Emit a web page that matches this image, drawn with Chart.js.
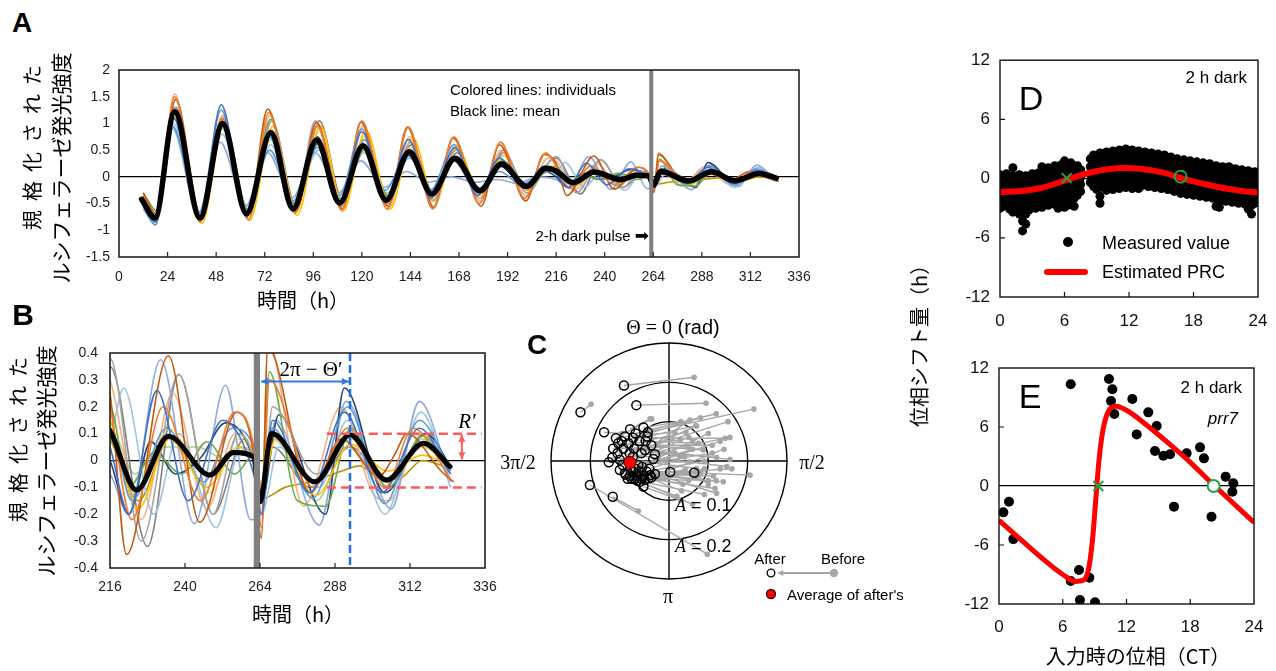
<!DOCTYPE html>
<html><head><meta charset="utf-8">
<script src="https://cdn.jsdelivr.net/npm/chart.js@4.4.0/dist/chart.umd.min.js"></script>
<style>
body{margin:0;width:1276px;height:671px;background:#fff;position:relative;overflow:hidden;font-family:"Liberation Sans",Arial,sans-serif;}
canvas{position:absolute;}
.t{position:absolute;white-space:nowrap;color:#000;line-height:1;}
.c{transform:translate(-50%,-50%);}
.l{transform:translate(0,-50%);}
.r{transform:translate(-100%,-50%);}
.rot{transform:translate(-50%,-50%) rotate(-90deg);}
.jp{font-family:"Noto Sans CJK JP",sans-serif;}
.serif{font-family:"Liberation Serif","DejaVu Serif",serif;}
.big{font-weight:bold;}
</style></head><body>
<canvas id="cA" width="830" height="300" style="left:0;top:40px"></canvas>
<canvas id="cB" width="500" height="290" style="left:0;top:330px"></canvas>
<canvas id="cC" width="400" height="300" style="left:500px;top:310px"></canvas>
<canvas id="cD" width="346" height="300" style="left:930px;top:40px"></canvas>
<canvas id="cE" width="346" height="331" style="left:930px;top:340px"></canvas>

<!-- Panel A texts -->
<div class="t c big" style="left:22px;top:23px;font-size:28px">A</div>
<div class="t rot jp" style="left:32px;top:143px;font-size:20px;letter-spacing:9px">規格化された</div>
<div class="t rot jp" style="left:60px;top:168px;font-size:21px">ルシフェラーゼ発光強度</div>
<div class="t c jp" style="left:303px;top:300px;font-size:20px">時間（h）</div>
<div class="t l" style="left:450px;top:89px;font-size:15px">Colored lines: individuals</div>
<div class="t l" style="left:450px;top:110px;font-size:15px">Black line: mean</div>
<div class="t r" style="left:649px;top:235px;font-size:15px">2-h dark pulse <span style="font-family:'DejaVu Sans';font-size:17px">➡</span></div>

<!-- Panel B texts -->
<div class="t c big" style="left:23px;top:315px;font-size:30px">B</div>
<div class="t rot jp" style="left:18px;top:435px;font-size:20px;letter-spacing:9px">規格化された</div>
<div class="t rot jp" style="left:45px;top:461px;font-size:21px">ルシフェラーゼ発光強度</div>
<div class="t c jp" style="left:298px;top:614px;font-size:20px">時間（h）</div>
<div class="t c serif" style="left:311px;top:369px;font-size:21px">2π − Θ′</div>
<div class="t c serif" style="left:467px;top:421px;font-size:21px;font-style:italic">R′</div>

<!-- Panel C texts -->
<div class="t c big" style="left:537px;top:345px;font-size:28px">C</div>
<div class="t c" style="left:673px;top:327px;font-size:20px"><span class="serif">Θ = 0</span> (rad)</div>
<div class="t c serif" style="left:518px;top:462px;font-size:20px">3π/2</div>
<div class="t c serif" style="left:812px;top:462px;font-size:20px">π/2</div>
<div class="t c serif" style="left:668px;top:596px;font-size:20px">π</div>
<div class="t l" style="left:675px;top:505px;font-size:18px"><span class="serif" style="font-style:italic">A</span> = 0.1</div>
<div class="t l" style="left:675px;top:546px;font-size:18px"><span class="serif" style="font-style:italic">A</span> = 0.2</div>
<div class="t c" style="left:770px;top:558px;font-size:15px">After</div>
<div class="t c" style="left:843px;top:558px;font-size:15px">Before</div>
<div class="t l" style="left:787px;top:594px;font-size:15px">Average of after's</div>

<!-- Panel D/E texts -->
<div class="t c" style="left:1031px;top:98px;font-size:34px">D</div>
<div class="t r" style="left:1247px;top:77px;font-size:17px">2 h dark</div>
<div style="position:absolute;left:1063px;top:237px;width:10px;height:10px;border-radius:50%;background:#000"></div>
<div class="t l" style="left:1102px;top:243px;font-size:18px">Measured value</div>
<div style="position:absolute;left:1044px;top:269px;width:44px;height:6px;border-radius:3px;background:#ff0000"></div>
<div class="t l" style="left:1102px;top:272px;font-size:18px">Estimated PRC</div>
<div class="t rot jp" style="left:919px;top:341px;font-size:20px">位相シフト量（h）</div>
<div class="t c" style="left:1030px;top:396px;font-size:34px">E</div>
<div class="t r" style="left:1242px;top:387px;font-size:17px">2 h dark</div>
<div class="t r" style="left:1238px;top:418px;font-size:17px;font-style:italic">prr7</div>
<div class="t c jp" style="left:1138px;top:656px;font-size:20px">入力時の位相（CT）</div>

<script>
// ===================== DATA =====================
// Panel A/B: time axis ticks
const aXTicks = [0,24,48,72,96,120,144,168,192,216,240,264,288,312,336];
const aYTicks = [-1.5,-1,-0.5,0,0.5,1,1.5,2];
const bXTicks = [216,240,264,288,312,336];
const bYTicks = [-0.4,-0.3,-0.2,-0.1,0,0.1,0.2,0.3,0.4];
const pulseWindow = [262,264];     // 2-h dark pulse (h)
const bPeakAfter = 292.8;          // first peak after pulse (h)
const bPeakLevel = 0.294;          // level of 2π−Θ′ arrow
const bAmpLevel = 0.1;             // R′
const bAmpFrom = 285.4, bAmpTo = 334.9, bAmpArrowT = 328.6;

// mean trace [time h, normalised luminescence]
const meanTrace = [[11.2,-0.42],[17.8,-0.77],[27.5,1.22],[40,-0.77],[51.2,1.0],[63,-0.69],[75,0.83],[86,-0.6],[97.6,0.69],[109,-0.49],[120.6,0.58],[132,-0.44],[143.4,0.47],[154.5,-0.32],[166,0.35],[178.4,-0.26],[189,0.24],[201.4,-0.18],[211,0.16],[216,0.11],[224.5,-0.11],[234.7,0.09],[248,-0.054],[255.5,0.03],[261.9,0.014],[264,-0.154],[267.7,0.1],[281.6,-0.079],[292.8,0.095],[304.5,-0.073],[316.3,0.064],[324.8,-0.023]];

// individual traces
const ind1 = [[12,-0.45],[18,-0.85],[27,1.1],[40,-0.8],[50.5,1.35],[63,-0.75],[74.5,0.75],[86.5,-0.55],[98,0.62],[109.5,-0.45],[120,0.85],[132,-0.42],[143,0.7],[154,-0.4],[166,0.55],[177,-0.35],[188,0.35],[200,-0.2],[210,0.2],[216,0.05],[222,-0.2],[231,0.26],[241,-0.15],[252,0.15],[262,-0.05],[264.5,-0.2],[268,0.15],[280,-0.12],[291,0.18],[303,-0.12],[315,0.12],[325,-0.05]];
const ind2 = [[12,-0.35],[18.5,-0.75],[27.5,1.5],[40,-0.85],[51,1.1],[64,-0.8],[74,1.2],[87,-0.68],[98,0.95],[110,-0.62],[120,1.05],[132.5,-0.6],[143,0.93],[155,-0.6],[165.5,0.75],[178,-0.5],[188.5,0.65],[200.5,-0.4],[211,0.45],[216,0.2],[223,-0.22],[233,0.2],[245,-0.15],[256,0.18],[262,0.05],[264.5,-0.25],[267,0.3],[281,-0.1],[292,0.12],[304,-0.1],[313,0.12],[325,-0.07]];
const ind3 = [[12,-0.3],[18.5,-0.7],[28,1.45],[40.5,-0.75],[51.5,0.95],[64,-0.7],[73.5,1.27],[87.5,-0.65],[97.5,1.02],[110.5,-0.6],[119.5,1.03],[133,-0.55],[142.5,0.93],[155.5,-0.58],[165,0.73],[179,-0.55],[188,0.6],[201,-0.45],[210,0.42],[216,0.25],[221.3,-0.35],[234.7,0.39],[244.7,-0.23],[256.6,0.18],[262,0.02],[264.4,-0.29],[266.5,0.42],[280,-0.12],[290,0.08],[302,-0.06],[307,0.02],[311,0.1],[322,-0.04],[326,-0.08]];
const ind4 = [[12,-0.35],[18,-0.72],[27.5,1.3],[40,-0.75],[51,1.05],[63.5,-0.72],[75.5,1.05],[87,-0.62],[97,1.05],[110,-0.55],[121,0.7],[133,-0.5],[144,0.65],[155,-0.45],[166.5,0.5],[178.5,-0.4],[190,0.5],[201.5,-0.3],[213,0.3],[216,0.38],[226,-0.3],[238,0.32],[249,-0.2],[257,0.1],[262,0.0],[264.5,-0.2],[268,0.2],[282,-0.05],[292,0.05],[304,-0.08],[316,0.06],[325,-0.02]];
const ind5 = [[12,-0.5],[18.5,-0.82],[27,1.15],[41,-0.87],[51.5,0.95],[64.5,-0.82],[76,0.95],[88,-0.72],[99.5,0.95],[111,-0.62],[122,0.88],[134,-0.6],[145,0.75],[156,-0.45],[167,0.55],[179,-0.35],[190,0.4],[202,-0.25],[213,0.2],[216,0.15],[225,-0.18],[235,0.08],[247,-0.1],[257,0.05],[262,0.0],[264.5,-0.1],[269,0.08],[282,-0.13],[293,0.06],[305,-0.04],[316,0.02],[325,-0.02]];
const ind6 = [[12,-0.55],[18,-0.9],[26.5,0.95],[39.5,-0.7],[50.5,1.25],[63,-0.62],[74.5,0.5],[86,-0.45],[98,0.55],[109,-0.35],[120,0.9],[131.5,-0.25],[143,0.5],[154,-0.25],[165.5,0.6],[177,-0.25],[188,0.1],[199,-0.15],[210,0.1],[216,0.12],[223,-0.15],[234,0.12],[246,-0.08],[255,0.12],[262,0.05],[264.5,-0.12],[268,0.12],[281,-0.14],[292,0.2],[304,-0.16],[315,0.15],[325,-0.04]];
const ind7 = [[12,-0.3],[19,-0.65],[28,1.15],[40,-0.7],[51,1.05],[63.5,-0.65],[75,1.08],[87,-0.55],[98.5,0.65],[110,-0.45],[121,0.5],[133,-0.35],[144,0.45],[155.5,-0.3],[167,0.35],[178,-0.25],[189.5,0.3],[202,-0.2],[212,0.15],[216,0.2],[222,-0.1],[230,0.03],[239,-0.05],[247,0.07],[256,-0.05],[262,0.02],[264.5,-0.1],[267,0.33],[276,-0.15],[285,-0.17],[293,0.12],[305,-0.1],[316,0.09],[325,-0.03]];
const ind8 = [[12,-0.5],[18,-0.8],[27,1.2],[39.5,-0.8],[50.5,1.0],[63,-0.7],[74.5,0.8],[86.5,-0.6],[98,0.75],[109.5,-0.5],[120.5,0.55],[132.5,-0.45],[143,0.4],[154.5,-0.35],[165.5,0.3],[177.5,-0.3],[188.5,0.2],[200,-0.15],[211,0.1],[216,0.0],[222,-0.2],[229,0.07],[237,-0.05],[245,0.01],[253,0.14],[262,0.0],[264.5,-0.15],[270,0.17],[285,-0.2],[291,0.27],[304,-0.12],[317,0.1],[325,-0.02]];
const ind9 = [[12,-0.6],[18,-0.9],[26.5,0.9],[39,-0.7],[50,0.65],[62.5,-0.55],[73.5,0.45],[85.5,-0.4],[97,0.45],[108.5,-0.3],[119.5,0.3],[131,-0.2],[142,0.1],[153,-0.1],[164,0.0],[176,-0.1],[187,-0.05],[197,-0.12],[207,0.0],[216,-0.05],[222,-0.2],[232.2,0.375],[243,-0.235],[253,0.28],[261,-0.22],[264.5,-0.2],[269,0.15],[283,-0.24],[291.5,0.22],[306,-0.18],[315,0.22],[325,-0.08]];
const ind10 = [[12,-0.55],[18,-0.85],[27,1.0],[40,-0.65],[51,0.8],[63.5,-0.55],[75,0.6],[86.5,-0.45],[98.5,0.5],[110,-0.4],[121,0.45],[132.5,-0.3],[143.5,0.35],[155,-0.25],[166,0.3],[178,-0.2],[189,0.2],[201,-0.1],[211.5,0.12],[216,0.1],[220.3,0.27],[230,-0.2],[238,0.1],[250,-0.25],[258,0.05],[262,0.0],[264.5,-0.2],[270,0.05],[283,-0.1],[292,0.15],[304,-0.2],[315.5,0.18],[325,-0.1]];
const ind11 = [[12,-0.3],[18.5,-0.75],[27.5,1.55],[40.5,-0.82],[51,1.15],[64,-0.8],[74.5,1.15],[87.5,-0.65],[98,1.0],[110.5,-0.65],[120.5,0.95],[133,-0.62],[143.5,0.75],[155.5,-0.55],[166.5,0.6],[178.5,-0.45],[189,0.5],[201,-0.35],[212,0.35],[216,0.3],[226,-0.22],[236,0.25],[247,-0.18],[256,0.1],[262,0.02],[264.5,-0.2],[266.5,0.45],[278,-0.17],[290,0.2],[300,-0.12],[305,-0.15],[316,0.1],[325,-0.05]];
const ind12 = [[12,-0.45],[18,-0.78],[27.5,1.25],[40,-0.8],[51,1.0],[64,-0.75],[75,0.9],[87,-0.65],[99,0.85],[110.5,-0.55],[121.5,0.75],[133,-0.5],[144,0.55],[155.5,-0.4],[166.5,0.4],[178,-0.3],[189.5,0.3],[201,-0.2],[212,0.2],[216,0.15],[224,-0.12],[235,0.12],[248,-0.12],[257,0.08],[262,0.02],[264.5,-0.08],[268,0.1],[281,-0.08],[293,0.08],[305,-0.07],[316,0.05],[325,-0.02]];
const ind13 = [[12,-0.4],[18,-0.75],[27.5,1.2],[40,-0.75],[51,0.95],[63.5,-0.7],[75,0.8],[87,-0.6],[98.5,0.65],[110,-0.5],[121,0.55],[133,-0.42],[143.5,0.45],[155,-0.32],[166,0.33],[178,-0.25],[189,0.22],[201,-0.16],[211.5,0.14],[216,0.08],[225,-0.15],[235,0.08],[248,-0.05],[256,0.03],[262,0.0],[265,-0.14],[272,-0.1],[280,-0.08],[290,-0.04],[296,-0.02],[300,-0.05],[308,-0.07],[316,0.0],[325,-0.03]];
const ind14 = [[12,-0.45],[18.5,-0.8],[28,1.3],[40.5,-0.72],[51.5,1.1],[64,-0.65],[75.5,1.05],[87.5,-0.55],[99,1.05],[110.5,-0.45],[121.5,0.7],[133.5,-0.4],[144.5,0.6],[156,-0.35],[167,0.45],[179,-0.3],[190,0.45],[202,-0.25],[213,0.3],[216,0.35],[228,-0.32],[238,0.32],[249,-0.2],[259,0.08],[262,0.0],[264.5,-0.12],[268,0.05],[280,-0.1],[293,0.05],[305,-0.08],[316,0.05],[325,-0.02]];
const ind15 = [[12,-0.35],[18,-0.7],[27.5,1.2],[40,-0.7],[51,0.9],[63.5,-0.6],[75,0.7],[87,-0.5],[98.5,0.6],[110,-0.45],[121,0.5],[133,-0.4],[143.5,0.4],[155,-0.3],[166,0.3],[178,-0.2],[189,0.2],[201,-0.15],[211.5,0.1],[216,0.12],[224,-0.05],[232,0.05],[244,0.05],[252,0.01],[262,0.05],[264.5,-0.1],[268,0.08],[282,-0.15],[293,0.1],[305,-0.1],[316,0.08],[325,-0.03]];
const individuals = [ind1,ind2,ind3,ind4,ind5,ind6,ind7,ind8,ind9,ind10,ind11,ind12,ind13,ind14,ind15];
const indColors = ['#4472C4','#ED7D31','#C55A11','#A5A5A5','#FFC000','#5B9BD5','#70AD47','#264478','#8FAADC','#9DC3E6','#F4B183','#FFD966','#BF9000','#7F7F7F','#A9D18E'];

// Panel C: amplitude/phase plane (x = A sinΘ, y = A cosΘ)
const cRings = [0.1,0.2,0.3];
const afterX  = [-0.1145,-0.083,-0.225,-0.165,-0.054,-0.055,-0.059,-0.099,-0.112,-0.091,-0.075,-0.129,-0.103,-0.142,-0.116,-0.089,-0.061,-0.131,-0.144,-0.153,-0.036,-0.125,-0.112,-0.099,-0.082,-0.065,-0.048,-0.036,-0.091,-0.074,-0.057,-0.099,-0.078,-0.074,-0.065,0.003,0.064,-0.201,-0.143,-0.092,-0.07,-0.125,-0.105,-0.088,-0.07,-0.052,-0.118,-0.045,-0.135,-0.095,-0.08,-0.062,-0.045,-0.11,-0.085,-0.068,-0.05,-0.04,-0.1,-0.12,-0.085,-0.065];
const afterY  = [0.192,0.142,0.124,0.073,0.073,0.062,0.051,0.081,0.062,0.059,0.051,0.045,0.045,0.032,0.032,0.031,0.028,0.02,0.009,-0.003,0.017,-0.023,-0.031,-0.038,-0.038,-0.038,-0.036,-0.033,-0.027,-0.027,-0.027,-0.019,-0.01,-0.053,-0.065,-0.028,-0.03,-0.061,-0.091,0.011,0.02,0.003,-0.045,-0.046,-0.045,-0.044,-0.01,0.04,0.058,-0.045,-0.05,-0.048,-0.042,-0.035,-0.02,-0.015,-0.02,0.005,0.02,0.05,0.07,0.085];
const beforeX = [0.064,0.094,-0.198,-0.12,0.216,0.068,0.043,-0.048,0.015,0.143,0.075,0.087,0.028,0.049,0.155,0.121,0.028,0.147,0.07,0.053,0.015,0.206,0.113,0.117,0.035,0.041,0.138,0.121,0.032,0.1,0.09,0.06,0.11,0.02,0.03,0.07,0.1,0.0975,-0.078,0.155,0.053,0.07,0.09,0.06,0.13,0.08,0.05,0.11,-0.044,0.12,0.09,0.14,0.05,0.16,0.1,0.13,0.04,0.06,0.15,0.08,0.12,0.03];
const beforeY = [0.213,0.147,0.144,0.07,0.132,0.09,0.073,0.107,0.073,0.058,0.045,0.028,0.053,0.036,0.004,0.009,0.011,-0.014,-0.019,-0.002,0.02,-0.036,-0.038,-0.07,-0.059,-0.023,-0.053,-0.082,-0.076,-0.05,0.0,0.03,0.02,-0.09,-0.1,-0.04,-0.06,-0.237,-0.127,0.06,0.104,0.089,-0.085,-0.11,-0.02,-0.03,0.06,0.04,0.107,-0.05,-0.02,0.03,-0.05,-0.02,0.07,0.05,0.01,0.05,0.1,0.11,0.12,0.1];
const afterMean = [-0.099,-0.004];

// Panel D: measured phase shifts (CT h -> shift h), grouped per input phase
const dXTicks = [0,6,12,18,24];
const dYTicks = [-12,-6,0,6,12];
const dPhase = [0.0,0.3,0.6,0.9,1.2,1.5,1.8,2.1,2.4,2.7,3.0,3.3,3.6,3.9,4.2,4.5,4.8,5.1,5.4,5.7,6.0,6.3,6.6,6.9,7.2,7.5,8.4,8.7,9.0,9.3,9.6,9.9,10.2,10.5,10.8,11.1,11.4,11.7,12.0,12.3,12.6,12.9,13.2,13.5,13.8,14.1,14.4,14.7,15.0,15.3,15.6,15.9,16.2,16.5,16.8,17.1,17.4,17.7,18.0,18.3,18.6,18.9,19.2,19.5,19.8,20.1,20.4,20.7,21.0,21.3,21.6,21.9,22.2,22.5,22.8,23.1,23.4,23.7,24.0];
const dShifts = [
 [0.4,-0.4,-1.1,-1.8,-2.5,-3.0],[0.0,-0.7,-1.5,-2.2,-2.8],[0.5,-0.3,-1.0,-1.8,-2.6],[0.2,-0.6,-1.3,-2.1,-3.1],
 [1.1,0.3,-0.5,-1.2,-2.0,-2.7,-3.4],[0.1,-0.8,-1.6,-2.4,-3.2],[0.4,-0.4,-1.1,-1.9,-2.7,-3.6],[0.0,-0.8,-1.5,-2.3,-3.1,-4.3,-5.3],
 [0.3,-0.5,-1.3,-2.0,-2.8,-3.6,-4.6],[-0.1,-0.9,-1.7,-2.5,-3.2],[0.5,-0.3,-1.1,-1.9,-2.7],[0.1,-0.7,-1.4,-2.2,-3.0],
 [0.6,-0.2,-1.0,-1.8,-2.5],[1.2,0.3,-0.5,-1.3,-2.1,-2.9],[0.8,0.0,-0.8,-1.6,-2.4],[1.1,0.3,-0.5,-1.2,-2.0,-2.7],
 [0.7,-0.1,-0.9,-1.7,-2.5],[1.3,0.5,-0.3,-1.1,-1.9,-2.6],[0.9,0.1,-0.7,-1.4,-2.2,-3.0],[1.4,0.6,-0.2,-1.0,-1.8,-2.6],
 [1.8,1.0,0.2,-0.6,-1.4,-2.2,-2.9],[1.3,0.5,-0.3,-1.1,-1.9,-2.7],[1.6,0.8,0.0,-0.8,-1.6,-2.4],[1.2,0.4,-0.4,-1.2,-2.0,-2.8],
 [1.3,0.5,-0.3,-1.0,-1.7],[0.9,0.1,-0.6,-1.3],[2.0,1.2,0.4,-0.4],[2.4,1.6,0.8,0.0,-0.8],
 [2.1,1.3,0.5,-0.3,-1.1],[2.6,1.8,1.0,0.2,-0.6,-1.8,-2.5],[2.3,1.5,0.7,-0.1,-0.9],[2.7,1.9,1.1,0.3,-0.5,-1.2],
 [2.4,1.6,0.8,0.0,-0.8],[2.8,2.0,1.2,0.4,-0.4,-1.1],[2.5,1.7,0.9,0.1,-0.7],[2.9,2.1,1.3,0.5,-0.3,-1.0],
 [2.6,1.8,1.0,0.2,-0.6],[3.0,2.2,1.4,0.6,-0.2,-0.9],[2.7,1.9,1.1,0.3,-0.5],[2.9,2.1,1.3,0.5,-0.3,-1.0],
 [2.5,1.7,0.9,0.1,-0.7],[2.8,2.0,1.2,0.4,-0.4,-1.0],[2.4,1.6,0.8,0.0,-0.7],[2.7,1.9,1.1,0.3,-0.5],
 [2.3,1.5,0.7,-0.1,-0.8],[2.6,1.8,1.0,0.2,-0.6],[2.2,1.4,0.6,-0.2,-0.9],[2.5,1.7,0.9,0.1,-0.7],
 [2.1,1.3,0.5,-0.3,-1.0],[2.4,1.6,0.8,0.0,-0.8],[2.0,1.2,0.4,-0.4,-1.1],[2.2,1.4,0.6,-0.2,-1.0],
 [1.8,1.0,0.2,-0.6,-1.3],[2.0,1.2,0.4,-0.4,-1.2],[1.7,0.9,0.1,-0.7,-1.5],[1.9,1.1,0.3,-0.5,-1.3],
 [1.6,0.8,0.0,-0.8,-1.6],[1.8,1.0,0.2,-0.6,-1.4],[1.5,0.7,-0.1,-0.9,-1.7],[1.7,0.9,0.1,-0.7,-1.5],
 [1.4,0.6,-0.2,-1.0,-1.8],[1.6,0.8,0.0,-0.8,-1.6],[1.3,0.5,-0.3,-1.1,-1.9],[1.5,0.7,-0.1,-0.9,-1.7],
 [1.2,0.4,-0.4,-1.2,-2.0],[1.3,0.5,-0.3,-1.1,-1.9,-2.8],[1.0,0.2,-0.6,-1.4,-2.2,-2.9],[1.2,0.4,-0.4,-1.2,-2.0],
 [0.9,0.1,-0.7,-1.5,-2.3],[1.2,0.4,-0.4,-1.2,-2.0],[0.8,0.0,-0.8,-1.6,-2.4],[1.0,0.2,-0.6,-1.4,-2.2],
 [0.7,-0.1,-0.9,-1.7,-2.5],[0.9,0.1,-0.7,-1.5,-2.3],[0.6,-0.2,-1.0,-1.8,-2.6],[0.8,0.0,-0.8,-1.6,-2.4,-3.1],
 [0.5,-0.3,-1.1,-1.9,-2.7,-3.6],[0.7,-0.1,-0.9,-1.7,-2.5],[0.5,-0.3,-1.1,-1.9]
];
const dPrc = [[0,-1.35],[2,-1.25],[4,-0.9],[6,-0.2],[8,0.5],[10,0.95],[11.5,1.08],[13,1.0],[15,0.65],[17,0.0],[19,-0.55],[21,-1.0],[23,-1.32],[24,-1.4]];
const dStable = [16.8,0.2];    // green circle
const dUnstable = [6.2,0.05];  // green cross

// Panel E: prr7 mutant
const eX = [0.41,0.94,1.35,6.75,6.75,7.53,7.62,8.5,9.04,10.35,10.67,10.54,10.85,12.55,12.96,14.05,14.84,14.68,15.47,16.1,16.47,17.66,18.92,19.29,20.0,21.33,22.05,21.96];
const eY = [-2.68,-1.6,-5.4,10.34,-9.66,-8.54,-11.6,-9.32,-11.83,10.88,9.83,8.64,7.32,8.85,5.25,7.49,6.1,3.56,3.08,3.22,-2.1,3.32,3.93,2.81,-3.12,0.95,0.27,-0.58];
const ePrc = [[0,-3.5],[2,-5.4],[4,-7.3],[6,-9.0],[7.2,-9.7],[7.9,-9.6],[8.4,-8.6],[8.8,-5.5],[9.1,-1.5],[9.4,2.5],[9.8,5.8],[10.3,7.6],[11,8.1],[12,7.7],[14,6.1],[16,4.3],[18,2.4],[20,0.3],[22,-1.7],[24,-3.7]];
const eStable = [20.2,0];
const eUnstable = [9.35,0];

// ===================== HELPERS =====================
const SANS = "'Liberation Sans', Arial, sans-serif";
const xy = arr => arr.map(p => ({x:p[0], y:p[1]}));
const fixedTicks = vals => s => { s.ticks = vals.map(v => ({value:v})); };
const zeroGrid = ctx => (ctx.tick && ctx.tick.value === 0) ? '#000' : 'rgba(0,0,0,0)';

const framePlugin = {
  id:'frame',
  afterDraw(chart, args, o){
    const {ctx, chartArea:a} = chart;
    ctx.save();
    ctx.strokeStyle = o.color || '#000';
    ctx.lineWidth = o.width || 1.5;
    ctx.strokeRect(a.left, a.top, a.right-a.left, a.bottom-a.top);
    ctx.lineWidth = 1.2;
    ctx.beginPath();
    if (o.xTick){
      const xs = chart.scales.x;
      xs.ticks.forEach(t => { const p = xs.getPixelForValue(t.value);
        if (p > a.left+2 && p < a.right-2){ ctx.moveTo(p, a.bottom); ctx.lineTo(p, a.bottom - o.xTick); } });
    }
    if (o.yTick){
      const ys = chart.scales.y;
      ys.ticks.forEach(t => { const p = ys.getPixelForValue(t.value);
        if (p > a.top+2 && p < a.bottom-2 && t.value !== 0){ ctx.moveTo(a.left, p); ctx.lineTo(a.left + o.yTick, p); } });
    }
    ctx.stroke();
    ctx.restore();
  }
};

function arrowHead(ctx, x, y, ang, size){
  ctx.beginPath();
  ctx.moveTo(x, y);
  ctx.lineTo(x - size*Math.cos(ang - 0.45), y - size*Math.sin(ang - 0.45));
  ctx.lineTo(x - size*Math.cos(ang + 0.45), y - size*Math.sin(ang + 0.45));
  ctx.closePath();
  ctx.fill();
}
function doubleArrow(ctx, x1, y1, x2, y2, color, w, size){
  ctx.save();
  ctx.strokeStyle = color; ctx.fillStyle = color; ctx.lineWidth = w; ctx.setLineDash([]);
  ctx.beginPath(); ctx.moveTo(x1, y1); ctx.lineTo(x2, y2); ctx.stroke();
  const ang = Math.atan2(y2-y1, x2-x1);
  arrowHead(ctx, x2, y2, ang, size);
  arrowHead(ctx, x1, y1, ang + Math.PI, size);
  ctx.restore();
}

const pulsePlugin = {
  id:'pulse',
  afterDatasetsDraw(chart){
    const {ctx, chartArea:a} = chart; const xs = chart.scales.x;
    const p0 = xs.getPixelForValue(pulseWindow[0]), p1 = xs.getPixelForValue(pulseWindow[1]);
    ctx.save(); ctx.fillStyle = '#808080';
    ctx.fillRect(p0, a.top, Math.max(p1-p0, 3), a.bottom-a.top);
    ctx.restore();
  }
};

const bAnnotPlugin = {
  id:'bAnnot',
  afterDatasetsDraw(chart){
    const {ctx, chartArea:a} = chart; const xs = chart.scales.x, ys = chart.scales.y;
    ctx.save();
    const bx = xs.getPixelForValue(bPeakAfter);
    ctx.strokeStyle = '#1F6FEB'; ctx.lineWidth = 2.5; ctx.setLineDash([8,4]);
    ctx.beginPath(); ctx.moveTo(bx, a.top); ctx.lineTo(bx, a.bottom); ctx.stroke();
    ctx.strokeStyle = '#FF5A5A'; ctx.lineWidth = 2.5; ctx.setLineDash([9,5]);
    const r0 = xs.getPixelForValue(bAmpFrom), r1 = xs.getPixelForValue(bAmpTo);
    [bAmpLevel, -bAmpLevel].forEach(v => { const py = ys.getPixelForValue(v);
      ctx.beginPath(); ctx.moveTo(r0, py); ctx.lineTo(r1, py); ctx.stroke(); });
    ctx.restore();
    const py = ys.getPixelForValue(bPeakLevel);
    doubleArrow(ctx, xs.getPixelForValue(pulseWindow[1]) + 1, py, bx - 1, py, '#2E7BE6', 2, 8);
    const ax = xs.getPixelForValue(bAmpArrowT);
    doubleArrow(ctx, ax, ys.getPixelForValue(bAmpLevel) + 1, ax, ys.getPixelForValue(0) - 1, '#FF5A5A', 2, 8);
  }
};

const ringPlugin = {
  id:'rings',
  beforeDatasetsDraw(chart){
    const {ctx} = chart; const xs = chart.scales.x, ys = chart.scales.y;
    const cx = xs.getPixelForValue(0), cy = ys.getPixelForValue(0);
    ctx.save(); ctx.strokeStyle = '#000'; ctx.lineWidth = 1.4;
    cRings.forEach(r => { const rp = xs.getPixelForValue(r) - cx;
      ctx.beginPath(); ctx.arc(cx, cy, rp, 0, Math.PI*2); ctx.stroke(); });
    const R = cRings[cRings.length-1];
    ctx.beginPath();
    ctx.moveTo(xs.getPixelForValue(-R), cy); ctx.lineTo(xs.getPixelForValue(R), cy);
    ctx.moveTo(cx, ys.getPixelForValue(R)); ctx.lineTo(cx, ys.getPixelForValue(-R));
    ctx.stroke(); ctx.restore();
  },
  afterDraw(chart){
    const ctx = chart.ctx;
    ctx.save();
    ctx.strokeStyle = '#A6A6A6'; ctx.fillStyle = '#A6A6A6'; ctx.lineWidth = 2.2;
    ctx.beginPath(); ctx.moveTo(283, 263); ctx.lineTo(333, 263); ctx.stroke();
    arrowHead(ctx, 277, 263, Math.PI, 7);
    ctx.beginPath(); ctx.arc(334, 263, 4.2, 0, Math.PI*2); ctx.fill();
    ctx.strokeStyle = '#000'; ctx.lineWidth = 1.3; ctx.fillStyle = '#fff';
    ctx.beginPath(); ctx.arc(271, 263, 3.8, 0, Math.PI*2); ctx.fill(); ctx.stroke();
    ctx.fillStyle = '#FF0000'; ctx.strokeStyle = '#400';
    ctx.beginPath(); ctx.arc(271, 284, 4.5, 0, Math.PI*2); ctx.fill(); ctx.stroke();
    ctx.restore();
  }
};

const baseOpts = () => ({
  responsive:false, animation:false, events:[],
  plugins:{legend:{display:false}, tooltip:{enabled:false}},
  elements:{point:{radius:0}}
});

// ===================== PANEL A =====================
function traceSets(meanWidth){
  const sets = individuals.map((d, i) => ({
    data: xy(d), borderColor: indColors[i], borderWidth: 1.6, pointRadius: 0,
    cubicInterpolationMode: 'monotone', fill: false, order: 2 + i
  }));
  sets.unshift({ data: xy(meanTrace), borderColor: '#000', borderWidth: meanWidth, pointRadius: 0,
    cubicInterpolationMode: 'monotone', fill: false, order: 0, borderCapStyle: 'round', borderJoinStyle: 'round' });
  return sets;
}

{
  const o = baseOpts();
  o.layout = {padding:{top:30, right:31, left:0, bottom:0}};
  o.plugins.frame = {width:1.6, color:'#222', xTick:5};
  o.scales = {
    x:{type:'linear', min:0, max:336, afterBuildTicks:fixedTicks(aXTicks), afterFit:s=>{s.height=83;},
       grid:{display:false}, border:{display:false},
       ticks:{font:{size:14, family:SANS}, color:'#222', padding:4, maxRotation:0, autoSkip:false, callback:v=>String(v)}},
    y:{type:'linear', min:-1.5, max:2, afterBuildTicks:fixedTicks(aYTicks), afterFit:s=>{s.width=119;},
       grid:{color:zeroGrid, drawTicks:false, lineWidth:1.2}, border:{display:false},
       ticks:{font:{size:14, family:SANS}, color:'#222', padding:9, callback:v=>String(v)}}
  };
  new Chart(document.getElementById('cA'), {type:'line', data:{datasets:traceSets(5.5)}, options:o, plugins:[framePlugin, pulsePlugin]});
}

// ===================== PANEL B =====================
{
  const o = baseOpts();
  o.layout = {padding:{top:23, right:15, left:0, bottom:0}};
  o.plugins.frame = {width:1.6, color:'#222', xTick:5};
  o.scales = {
    x:{type:'linear', min:216, max:336, afterBuildTicks:fixedTicks(bXTicks), afterFit:s=>{s.height=52;},
       grid:{display:false}, border:{display:false},
       ticks:{font:{size:14, family:SANS}, color:'#222', padding:3, maxRotation:0, autoSkip:false, callback:v=>String(v)}},
    y:{type:'linear', min:-0.4, max:0.4, afterBuildTicks:fixedTicks(bYTicks), afterFit:s=>{s.width=110;},
       grid:{color:zeroGrid, drawTicks:false, lineWidth:1.2}, border:{display:false},
       ticks:{font:{size:14, family:SANS}, color:'#222', padding:12, callback:v=>String(v)}}
  };
  new Chart(document.getElementById('cB'), {type:'line', data:{datasets:traceSets(5)}, options:o, plugins:[framePlugin, pulsePlugin, bAnnotPlugin]});
}

// ===================== PANEL C =====================
{
  const segs = [];
  afterX.forEach((ax, i) => {
    segs.push({x:beforeX[i], y:beforeY[i]});
    segs.push({x:ax, y:afterY[i]});
    segs.push({x:ax, y:null});
  });
  const o = baseOpts();
  o.layout = {padding:{top:33, right:113, left:51, bottom:31}};
  o.scales = {
    x:{type:'linear', min:-0.3, max:0.3, display:false},
    y:{type:'linear', min:-0.3, max:0.3, display:false}
  };
  new Chart(document.getElementById('cC'), {type:'scatter', data:{datasets:[
    {data:[{x:afterMean[0], y:afterMean[1]}], pointRadius:6, backgroundColor:'#FF0000', borderColor:'#500', borderWidth:1, order:-1, clip:false},
    {data:afterX.map((v,i)=>({x:v, y:afterY[i]})), pointRadius:4.5, backgroundColor:'rgba(0,0,0,0)', borderColor:'#000', borderWidth:1.5, order:0, clip:false},
    {data:beforeX.map((v,i)=>({x:v, y:beforeY[i]})), pointRadius:2.8, backgroundColor:'#A6A6A6', borderColor:'#A6A6A6', borderWidth:0, order:1, clip:false},
    {data:segs, showLine:true, spanGaps:false, pointRadius:0, borderColor:'#A6A6A6', borderWidth:1.4, order:2, clip:false}
  ]}, options:o, plugins:[ringPlugin]});
}

// ===================== PANEL D / E =====================
function prcOpts(padTop, padRight, yW, xH, xPad){
  const o = baseOpts();
  o.layout = {padding:{top:padTop, right:padRight, left:0, bottom:0}};
  o.plugins.frame = {width:1.4, color:'#111', xTick:5, yTick:5};
  o.scales = {
    x:{type:'linear', min:0, max:24, afterBuildTicks:fixedTicks(dXTicks), afterFit:s=>{s.height=xH;},
       grid:{display:false}, border:{display:false},
       ticks:{font:{size:17, family:SANS}, color:'#111', padding:xPad, maxRotation:0, autoSkip:false, callback:v=>String(v)}},
    y:{type:'linear', min:-12, max:12, afterBuildTicks:fixedTicks(dYTicks), afterFit:s=>{s.width=yW;},
       grid:{color:zeroGrid, drawTicks:false, lineWidth:1.2}, border:{display:false},
       ticks:{font:{size:17, family:SANS}, color:'#111', padding:10, callback:v=>String(v)}}
  };
  return o;
}
{
  const pts = [];
  dPhase.forEach((t, i) => dShifts[i].forEach(v => pts.push({x:t, y:v})));
  new Chart(document.getElementById('cD'), {type:'scatter', data:{datasets:[
    {data:[{x:dUnstable[0], y:dUnstable[1]}], pointStyle:'crossRot', pointRadius:7, borderColor:'#1FA34A', borderWidth:2, order:0},
    {data:[{x:dStable[0], y:dStable[1]}], pointStyle:'circle', pointRadius:6, borderColor:'#1FA34A', backgroundColor:'rgba(0,0,0,0)', borderWidth:2, order:0},
    {data:xy(dPrc), showLine:true, pointRadius:0, borderColor:'#FF0000', borderWidth:6, cubicInterpolationMode:'monotone', order:1},
    {data:pts, pointRadius:4.5, backgroundColor:'#000', borderColor:'#000', borderWidth:0, order:2}
  ]}, options:prcOpts(18, 18, 70, 43, 6), plugins:[framePlugin]});
}
{
  new Chart(document.getElementById('cE'), {type:'scatter', data:{datasets:[
    {data:[{x:eUnstable[0], y:eUnstable[1]}], pointStyle:'crossRot', pointRadius:7, borderColor:'#1FA34A', borderWidth:2, order:0},
    {data:[{x:eStable[0], y:eStable[1]}], pointStyle:'circle', pointRadius:6, borderColor:'#1FA34A', backgroundColor:'#fff', borderWidth:2, order:0},
    {data:xy(ePrc), showLine:true, pointRadius:0, borderColor:'#FF0000', borderWidth:5, cubicInterpolationMode:'monotone', order:1},
    {data:eX.map((v,i)=>({x:v, y:eY[i]})), pointRadius:5, backgroundColor:'#000', borderColor:'#000', borderWidth:0, order:2}
  ]}, options:prcOpts(28, 22, 69, 67, 5), plugins:[framePlugin]});
}
</script>
</body></html>
